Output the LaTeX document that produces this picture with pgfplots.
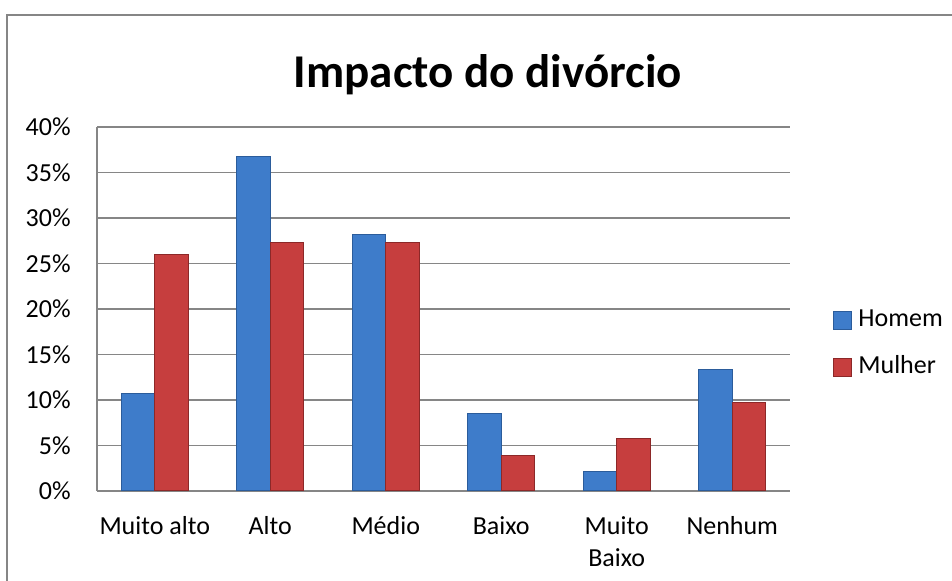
\documentclass[border=0pt]{standalone}
\usepackage{fontspec}
\setmainfont{Carlito}
\usepackage{pgfplots}
\pgfplotsset{compat=1.18}

\definecolor{gridgray}{HTML}{868686}
\definecolor{blueM}{HTML}{3E7CCA}
\definecolor{blueD}{HTML}{2B5C9B}
\definecolor{redM}{HTML}{C63E3E}
\definecolor{redD}{HTML}{8C2828}

\newcommand{\twolines}[2]{\begin{tabular}[t]{@{}c@{}}#1\\#2\end{tabular}}

\begin{document}
\begin{tikzpicture}
\path[use as bounding box] (0,0) rectangle (476pt,290.5pt);
% chart area frame (only top and left edges visible)
\draw[gridgray, line width=0.75pt] (3.5pt,0) -- (3.5pt,283pt) -- (476pt,283pt);
\node[font=\fontsize{23.5}{28}\selectfont\bfseries, anchor=base] at (244pt,246.5pt) {Impacto do divórcio};

\begin{axis}[
    at={(48.5pt,45pt)}, anchor=south west,
    width=346.5pt, height=182pt, scale only axis,
    ybar=0pt, bar width=16.75pt,
    xmin=-0.5, xmax=5.5, ymin=0, ymax=40,
    xtick={0,...,5},
    xticklabels={Muito alto, Alto, Médio, Baixo, \twolines{Muito}{Baixo}, Nenhum},
    ytick={0,5,...,40},
    yticklabel={\pgfmathprintnumber{\tick}\%},
    /pgf/number format/assume math mode=true,
    axis x line*=bottom, axis y line*=left,
    axis line style={gridgray, line width=0.75pt},
    ymajorgrids, grid style={gridgray, line width=0.75pt},
    major tick length=0pt,
    ticklabel style={font=\fontsize{13}{16}\selectfont},
    yticklabel style={inner sep=0pt, xshift=-13pt},
    xticklabel style={inner sep=0pt, anchor=base, yshift=-22pt},
    legend style={at={(1,0.405)}, anchor=west, xshift=21.5pt, draw=none, fill=none,
        inner sep=0pt, row sep=11.5pt, font=\fontsize{13}{16}\selectfont,
        nodes={inner sep=0pt, text height=9pt, text depth=3pt}},
    legend cell align=left,
    legend image code/.code={\draw[#1] (0pt,-4.5pt) rectangle (9pt,4.5pt);},
]

% Homem
\addplot[draw=blueD, line width=0.5pt, fill=blueM] coordinates {
    (0, 10.7)
    (1, 36.8)
    (2, 28.2)
    (3, 8.5)
    (4, 2.1)
    (5, 13.4)
};
\addlegendentry{\hspace{3pt}Homem}

% Mulher
\addplot[draw=redD, line width=0.5pt, fill=redM] coordinates {
    (0, 26.0)
    (1, 27.3)
    (2, 27.3)
    (3, 3.9)
    (4, 5.8)
    (5, 9.7)
};
\addlegendentry{\hspace{3pt}Mulher}

\end{axis}
\end{tikzpicture}
\end{document}
